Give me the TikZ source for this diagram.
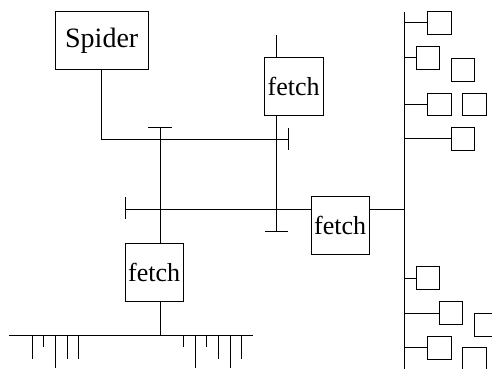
\documentclass[tikz,border=0pt]{standalone}
\usepackage{fontspec}
\setmainfont{Liberation Serif}
\begin{document}
\begin{tikzpicture}[x=1pt,y=-1pt,line width=1pt,
  bigbox/.style={draw,inner sep=0pt,minimum width=58.3pt,minimum height=58.3pt,font=\fontsize{26}{26}\selectfont},
  sbox/.style={draw,inner sep=0pt,minimum width=23.3pt,minimum height=22.7pt}]
\useasboundingbox (0,0) rectangle (492,369);
\clip (0,0) rectangle (492,369);
% main nodes
\node[draw,inner sep=0pt,minimum width=93.3pt,minimum height=57.7pt,font=\fontsize{28}{28}\selectfont] (spider) at (101.7,40.5) {Spider};
\node[bigbox,minimum width=59.3pt] (f1) at (293.7,86.8) {fetch};
\node[bigbox] (f2) at (340.2,225.8) {fetch};
\node[bigbox,minimum height=57.7pt] (f3) at (154.2,272.2) {fetch};
% coordinates
\coordinate (sp) at (101.7,139);
\coordinate (t1a) at (288.3,127.7); \coordinate (t1b) at (288.3,150); \coordinate (t1) at (288.3,139);
\coordinate (t2a) at (148,127.3); \coordinate (t2b) at (172,127.3); \coordinate (t2) at (160,127.3);
\coordinate (t3a) at (125,197.3); \coordinate (t3b) at (125,219.3); \coordinate (t3) at (125,209);
\coordinate (t4a) at (265,231.7); \coordinate (t4b) at (287.7,231.7); \coordinate (t4) at (276,231.7);
\coordinate (f1top) at (276,35);
\coordinate (busT) at (404.3,12.3); \coordinate (busB) at (404.3,369);
\coordinate (botL) at (9,335.7); \coordinate (botR) at (252.7,335.7); \coordinate (bj) at (160,335.7);
% Spider line
\draw (spider.south) -- (sp) -- (t1);
\draw (t1a) -- (t1b);
% vertical at x=160
\draw (t2a) -- (t2b);
\draw (t2) -- (t2 |- f3.north);
\draw (t2 |- f3.south) -- (bj);
% horizontal at y=209
\draw (t3a) -- (t3b);
\draw (t3) -- (t3 -| f2.west);
\draw (t3 -| f2.east) -- (t3 -| busT);
% vertical at x=276
\draw (f1top) -- (f1top |- f1.north);
\draw (f1top |- f1.south) -- (t4);
\draw (t4a) -- (t4b);
% right bus
\draw (busT) -- (busB);
% bottom bus with ticks
\draw (botL) -- (botR);
\foreach \x/\y in {32.3/359.3,43.7/347.3,55/368.3,67/359.3,78.7/359.3,183.3/347.3,195/368.3,206.7/347.3,218.3/359.3,230/368.3,241.7/359.3}
  \draw (\x,335.7) -- (\x,\y);
% small boxes
\node[sbox] (b1) at (439.35,23) {};
\node[sbox] (b2) at (427.7,58) {};
\node[sbox] (b3) at (462.7,69.7) {};
\node[sbox] (b4) at (439.35,104.35) {};
\node[sbox] (b5) at (474.35,104.35) {};
\node[sbox] (b6) at (462.7,138.7) {};
\node[sbox] (b7) at (427.8,278.3) {};
\node[sbox] (b8) at (451,313.2) {};
\node[sbox] (b9) at (485.7,324.7) {};
\node[sbox] (b10) at (439.35,347.9) {};
\node[sbox] (b11) at (474.35,359.1) {};
\foreach \b in {b1,b2,b4,b6,b7,b8,b10}
  \draw (busT |- \b.west) -- (\b.west);
\end{tikzpicture}
\end{document}
